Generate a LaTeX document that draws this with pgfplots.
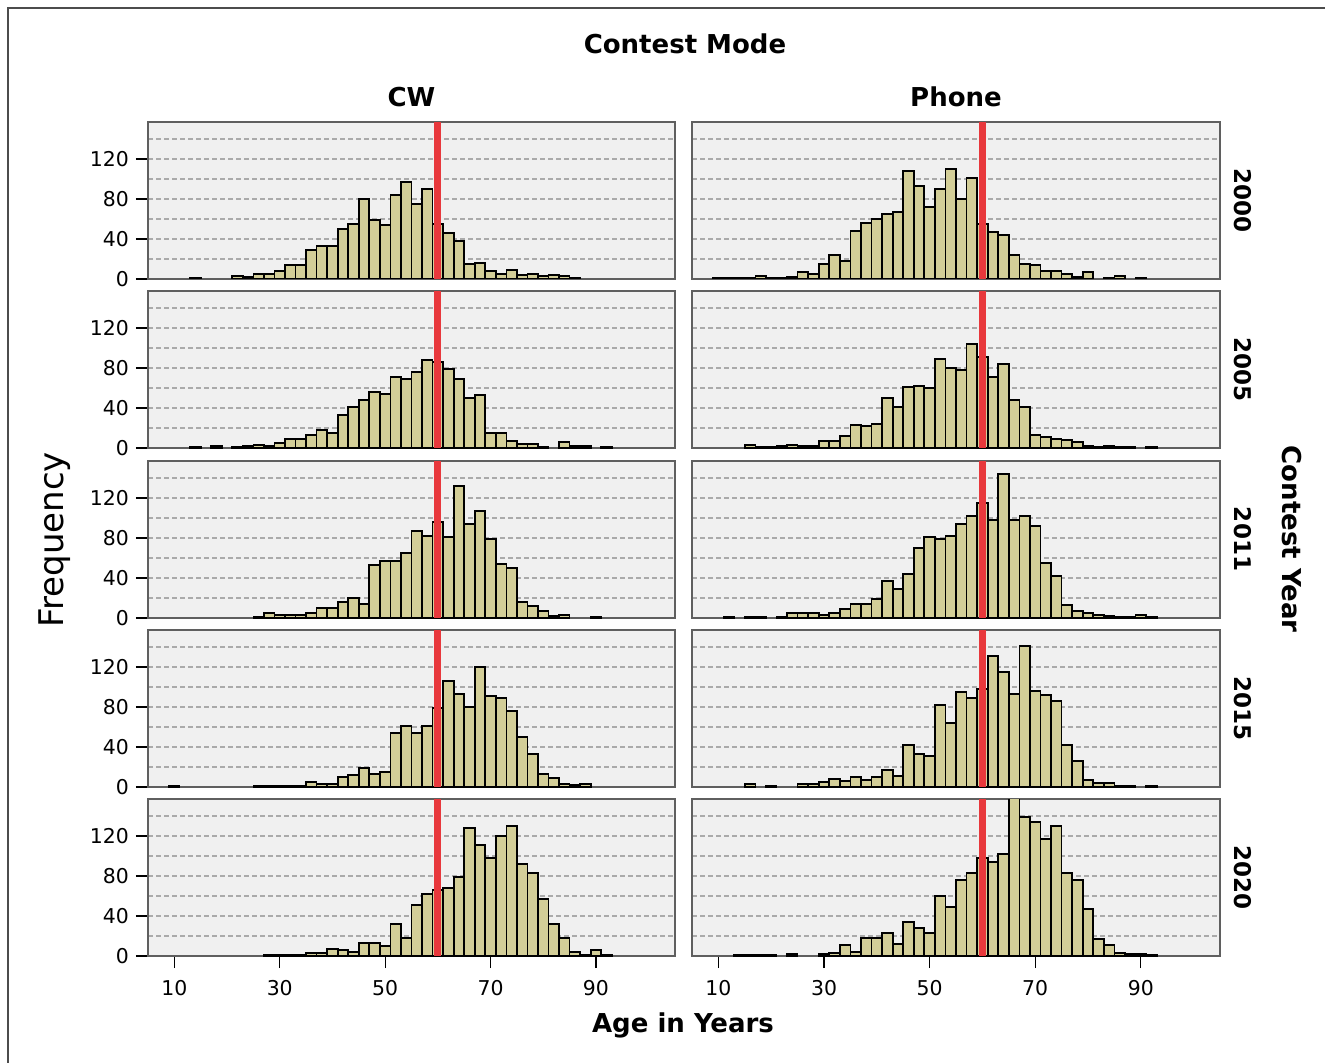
\documentclass[border=0pt]{standalone}
\usepackage{fontspec}
\setmainfont{DejaVu Sans}
\usepackage{pgfplots}
\pgfplotsset{compat=1.18}

\definecolor{barfill}{RGB}{211,206,152}
\definecolor{panelbg}{RGB}{240,240,240}
\definecolor{framec}{RGB}{95,95,95}
\definecolor{gridc}{RGB}{170,170,170}
\definecolor{redline}{RGB}{232,56,60}

\pgfplotsset{
  panel/.style={
    scale only axis, height=78.5pt,
    xmin=5, xmax=105, ymin=0, ymax=157,
    axis background/.style={fill=panelbg},
    axis line style={framec, line width=1pt},
    ytick={0,40,80,120}, minor ytick={20,60,100,140},
    ymajorgrids, yminorgrids,
    major grid style={gridc, dash pattern=on 2.5pt off 1.5pt, line width=0.8pt},
    minor grid style={gridc, dash pattern=on 2.5pt off 1.5pt, line width=0.8pt},
    xtick={10,30,50,70,90},
    tick style={black, line width=0.6pt},
    major tick length=6pt, minor tick length=0pt,
    tick align=outside,
    xtick pos=bottom, ytick pos=left,
    ticklabel style={font=\fontsize{10.2}{12}\selectfont},
    xticklabel style={yshift=-2.5pt},
    /pgf/number format/assume math mode=true,
    anchor=north west,
  },
  bars/.style={ybar, bar width=2, bar shift=0pt, fill=barfill, draw=black, line width=0.85pt},
  redl/.style={redline, line width=3.5pt},
}

\newcommand{\hist}[4]{%
\begin{axis}[panel, at={(#1,#2)}, #3]
\addplot[bars] coordinates {#4};
\addplot[redl] coordinates {(60,0) (60,157)};
\end{axis}}

\begin{document}
\begin{tikzpicture}
\useasboundingbox (0,0) rectangle (662.5pt,-531.5pt);
\draw[framec!80!black, line width=0.7pt] (4pt,-4pt) rectangle (680pt,-560pt);

% ---------- 2000 ----------
\hist{74pt}{-61pt}{width=263.5pt, xtick=\empty}{(14,1) (22,3) (24,2) (26,5) (28,5) (30,8) (32,14) (34,14) (36,29) (38,33) (40,33) (42,50) (44,55) (46,80) (48,59) (50,54) (52,84) (54,97) (56,75) (58,90) (60,55) (62,46) (64,38) (66,15) (68,16) (70,8) (72,5) (74,9) (76,4) (78,5) (80,3) (82,4) (84,3) (86,1)}
\hist{346pt}{-61pt}{width=264pt, xtick=\empty, yticklabels={}, ytick style={draw=none}}{(10,1) (12,1) (14,1) (16,1) (18,3) (20,1) (22,1) (24,2) (26,7) (28,5) (30,15) (32,24) (34,18) (36,48) (38,56) (40,60) (42,65) (44,67) (46,108) (48,93) (50,72) (52,90) (54,110) (56,80) (58,101) (60,55) (62,47) (64,44) (66,24) (68,15) (70,14) (72,8) (74,8) (76,5) (78,2) (80,7) (84,1) (86,3) (90,1)}

% ---------- 2005 ----------
\hist{74pt}{-145.5pt}{width=263.5pt, xtick=\empty}{(14,1) (18,2) (22,1) (24,2) (26,3) (28,2) (30,5) (32,9) (34,9) (36,13) (38,18) (40,15) (42,33) (44,41) (46,48) (48,56) (50,54) (52,71) (54,69) (56,76) (58,88) (60,86) (62,79) (64,69) (66,50) (68,53) (70,15) (72,15) (74,7) (76,4) (78,4) (80,1) (84,6) (86,2) (88,2) (92,1)}
\hist{346pt}{-145.5pt}{width=264pt, xtick=\empty, yticklabels={}, ytick style={draw=none}}{(16,3) (18,1) (20,1) (22,2) (24,3) (26,2) (28,2) (30,7) (32,7) (34,12) (36,23) (38,22) (40,24) (42,50) (44,41) (46,61) (48,62) (50,60) (52,89) (54,80) (56,78) (58,104) (60,91) (62,71) (64,84) (66,48) (68,41) (70,13) (72,11) (74,9) (76,8) (78,6) (80,2) (82,1) (84,2) (86,1) (88,1) (92,1)}

% ---------- 2011 ----------
\hist{74pt}{-230.5pt}{width=263.5pt, xtick=\empty}{(26,1) (28,5) (30,3) (32,3) (34,3) (36,5) (38,10) (40,10) (42,16) (44,20) (46,14) (48,53) (50,57) (52,57) (54,65) (56,87) (58,82) (60,96) (62,81) (64,132) (66,94) (68,107) (70,79) (72,54) (74,50) (76,16) (78,12) (80,7) (82,2) (84,3) (90,1)}
\hist{346pt}{-230.5pt}{width=264pt, xtick=\empty, yticklabels={}, ytick style={draw=none}}{(12,1) (16,1) (18,1) (22,1) (24,5) (26,5) (28,5) (30,3) (32,5) (34,9) (36,14) (38,14) (40,19) (42,37) (44,29) (46,44) (48,70) (50,81) (52,79) (54,82) (56,94) (58,102) (60,115) (62,98) (64,144) (66,98) (68,102) (70,92) (72,55) (74,42) (76,13) (78,7) (80,5) (82,3) (84,2) (86,1) (88,1) (90,3) (92,1)}

% ---------- 2015 ----------
\hist{74pt}{-315pt}{width=263.5pt, xtick=\empty}{(10,1) (26,1) (28,1) (30,1) (32,1) (34,1) (36,5) (38,3) (40,3) (42,10) (44,12) (46,19) (48,13) (50,15) (52,54) (54,61) (56,54) (58,61) (60,79) (62,106) (64,93) (66,80) (68,120) (70,91) (72,89) (74,76) (76,50) (78,33) (80,13) (82,9) (84,3) (86,2) (88,3)}
\hist{346pt}{-315pt}{width=264pt, xtick=\empty, yticklabels={}, ytick style={draw=none}}{(16,3) (20,1) (26,3) (28,3) (30,5) (32,8) (34,6) (36,10) (38,7) (40,10) (42,17) (44,11) (46,42) (48,33) (50,31) (52,82) (54,64) (56,95) (58,89) (60,98) (62,131) (64,115) (66,93) (68,141) (70,96) (72,92) (74,86) (76,42) (78,26) (80,7) (82,4) (84,4) (86,1) (88,1) (92,1)}

% ---------- 2020 ----------
\hist{74pt}{-399.5pt}{width=263.5pt}{(28,1) (30,1) (32,1) (34,1) (36,3) (38,3) (40,7) (42,6) (44,4) (46,13) (48,13) (50,10) (52,32) (54,18) (56,51) (58,62) (60,66) (62,68) (64,79) (66,128) (68,111) (70,98) (72,120) (74,130) (76,92) (78,83) (80,57) (82,32) (84,18) (86,4) (88,1) (90,6) (92,1)}
\hist{346pt}{-399.5pt}{width=264pt, yticklabels={}, ytick style={draw=none}}{(14,1) (16,1) (18,1) (20,1) (24,2) (30,2) (32,3) (34,11) (36,4) (38,18) (40,18) (42,23) (44,12) (46,34) (48,28) (50,23) (52,60) (54,49) (56,76) (58,83) (60,98) (62,94) (64,102) (66,158) (68,139) (70,134) (72,117) (74,130) (76,83) (78,76) (80,47) (82,17) (84,11) (86,3) (88,2) (90,2) (92,1)}

% ---------- labels ----------
\node[font=\bfseries\fontsize{13}{15}\selectfont] at (342.5pt,-22pt) {Contest Mode};
\node[font=\bfseries\fontsize{13}{15}\selectfont] at (205.75pt,-48.5pt) {CW};
\node[font=\bfseries\fontsize{13}{15}\selectfont] at (478pt,-48.5pt) {Phone};
\foreach \yy/\lab in {-100.25pt/2000, -184.75pt/2005, -269.5pt/2011, -354.25pt/2015, -438.75pt/2020}
  \node[font=\bfseries\fontsize{11.5}{13}\selectfont, rotate=-90] at (621.4pt,\yy) {\lab};
\node[font=\fontsize{17}{20}\selectfont, rotate=90] at (27.5pt,-270pt) {Frequency};
\node[font=\bfseries\fontsize{13}{15}\selectfont, rotate=-90] at (646pt,-269.5pt) {Contest Year};
\node[font=\bfseries\fontsize{13}{15}\selectfont] at (341.5pt,-512.5pt) {Age in Years};
\end{tikzpicture}
\end{document}
